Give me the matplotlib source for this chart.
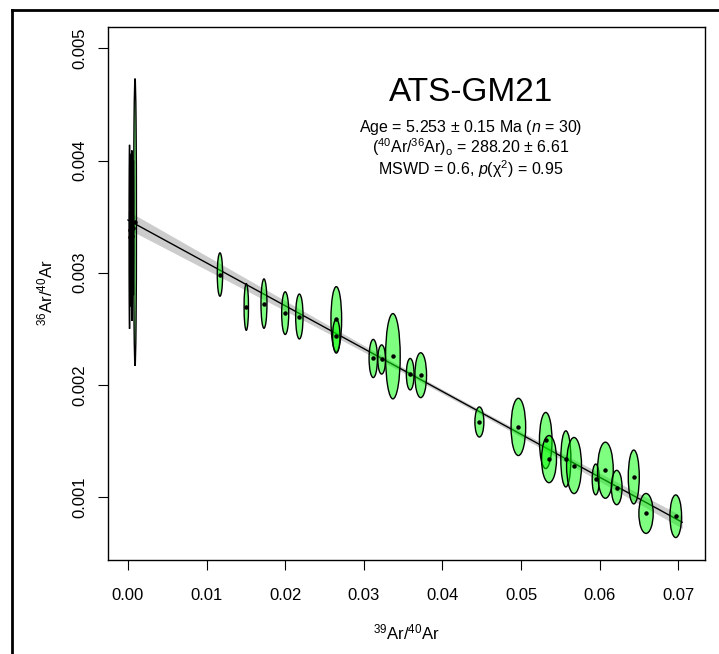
import numpy as np
import matplotlib
matplotlib.use("Agg")
import matplotlib.pyplot as plt
from matplotlib.patches import Ellipse
from matplotlib.lines import Line2D

plt.rcParams['font.family'] = ['Liberation Sans', 'DejaVu Sans']
plt.rcParams['mathtext.fontset'] = 'custom'
plt.rcParams['mathtext.rm'] = 'Liberation Sans'
plt.rcParams['mathtext.it'] = 'Liberation Sans:italic'
plt.rcParams['mathtext.default'] = 'regular'

# 39Ar/40Ar (x), 36Ar/40Ar (y) and ellipse half-axes
x_ratio = [0.0009, 0.0002, 0.0005, 0.0003, 0.0007, 0.0004,
           0.0117, 0.01505, 0.0173, 0.0200, 0.0218, 0.0265, 0.0265,
           0.0312, 0.03227, 0.0337, 0.0359, 0.03724, 0.0447, 0.04966,
           0.05314, 0.05356, 0.0557, 0.05674, 0.0595, 0.06073, 0.06217,
           0.06434, 0.0659, 0.06968]
y_ratio = [0.00345, 0.00332, 0.00333, 0.00338, 0.00340, 0.00342,
           0.002984, 0.002695, 0.002725, 0.00264, 0.00261, 0.002586, 0.002434,
           0.002236, 0.002227, 0.002256, 0.002096, 0.002087, 0.00167, 0.001626,
           0.001505, 0.001339, 0.001341, 0.001282, 0.001158, 0.00124, 0.001086,
           0.00118, 0.000855, 0.00083]
err_x = [0.00018, 0.00006, 0.00006, 0.00005, 0.00005, 0.00004,
         0.00034, 0.00028, 0.00038, 0.00045, 0.00047, 0.00068, 0.00047,
         0.00053, 0.00049, 0.00093, 0.00049, 0.00074, 0.00057, 0.00093,
         0.00080, 0.00095, 0.00064, 0.00095, 0.00045, 0.00100, 0.00068,
         0.00070, 0.00091, 0.00074]
err_y = [0.00128, 0.00082, 0.00076, 0.00068, 0.00060, 0.00050,
         0.000193, 0.000208, 0.00022, 0.00019, 0.00020, 0.00029, 0.00015,
         0.00017, 0.00013, 0.00038, 0.00014, 0.00020, 0.000134, 0.000255,
         0.00025, 0.00021, 0.00025, 0.00025, 0.000137, 0.00025, 0.000153,
         0.00024, 0.000178, 0.00019]

# isochron fit
intercept = 1 / 288.20
slope = -0.0382
s_int = 0.00008      # band half-width at x = 0
s_slope = 0.00184
cov_is = -1.43e-7
x_fit_max = 0.0705

fig = plt.figure(figsize=(7.19, 6.54), dpi=100)
ax = fig.add_axes([108 / 719, 1 - 560 / 654, 597 / 719, 533 / 654])

xf = np.linspace(0, x_fit_max, 200)
yf = intercept + slope * xf
hw = np.sqrt(s_int ** 2 + 2 * xf * cov_is + xf ** 2 * s_slope ** 2)
ax.fill_between(xf, yf - hw, yf + hw, color='#cccccc', lw=0, zorder=1)
ax.plot(xf, yf, color='black', lw=1, zorder=2)

for xi, yi, ex, ey in zip(x_ratio, y_ratio, err_x, err_y):
    ax.add_patch(Ellipse((xi, yi), 2 * ex, 2 * ey, facecolor=(0, 1, 0, 0.5),
                         edgecolor='black', lw=1, zorder=3))
ax.plot(x_ratio, y_ratio, 'o', color='black', ms=2.2, zorder=4)

ax.set_xlim(-0.00254, 0.0734)
ax.set_ylim(0.00044, 0.00519)
ax.set_xticks(np.arange(0, 0.071, 0.01))
ax.set_xticklabels(['%.2f' % v for v in np.arange(0, 0.071, 0.01)])
ax.set_yticks([0.001, 0.002, 0.003, 0.004, 0.005])
ax.set_yticklabels(['0.001', '0.002', '0.003', '0.004', '0.005'])
ax.tick_params(direction='out', length=7, width=0.8, labelsize=12)
ax.tick_params(axis='x', pad=13.5)
ax.tick_params(axis='y', pad=8)
for lab in ax.get_yticklabels():
    lab.set_rotation(90)
    lab.set_va('center')
for sp in ax.spines.values():
    sp.set_linewidth(1)

fig.text(406 / 719, 1 - 632 / 654, r'$^{39}$Ar/$^{40}$Ar', ha='center', va='center', fontsize=12)
fig.text(45 / 719, 1 - 293 / 654, r'$^{36}$Ar/$^{40}$Ar', ha='center', va='center',
         fontsize=12, rotation=90)

ax.text(0.0436, 0.004608, 'ATS-GM21', ha='center', va='center', fontsize=24)
ax.text(0.0436, 0.004290, r'Age = 5.253 ± 0.15 Ma ($\mathit{n}$ = 30)', ha='center', va='center', fontsize=11.5)
ax.text(0.0436, 0.004115, r'($^{40}$Ar/$^{36}$Ar)$_{o}$ = 288.20 ± 6.61', ha='center', va='center', fontsize=11.5)
ax.text(0.0436, 0.003925, r'MSWD = 0.6, $\mathit{p}$(χ$^{2}$) = 0.95', ha='center', va='center', fontsize=11.5)

# outer frame (top and left edges show)
fig.add_artist(Line2D([12 / 719, 12 / 719], [0, 1 - 10 / 654], transform=fig.transFigure, color='black', lw=2))
fig.add_artist(Line2D([12 / 719, 1], [1 - 10 / 654, 1 - 10 / 654], transform=fig.transFigure, color='black', lw=2))

fig.savefig('out.png', dpi=100)
